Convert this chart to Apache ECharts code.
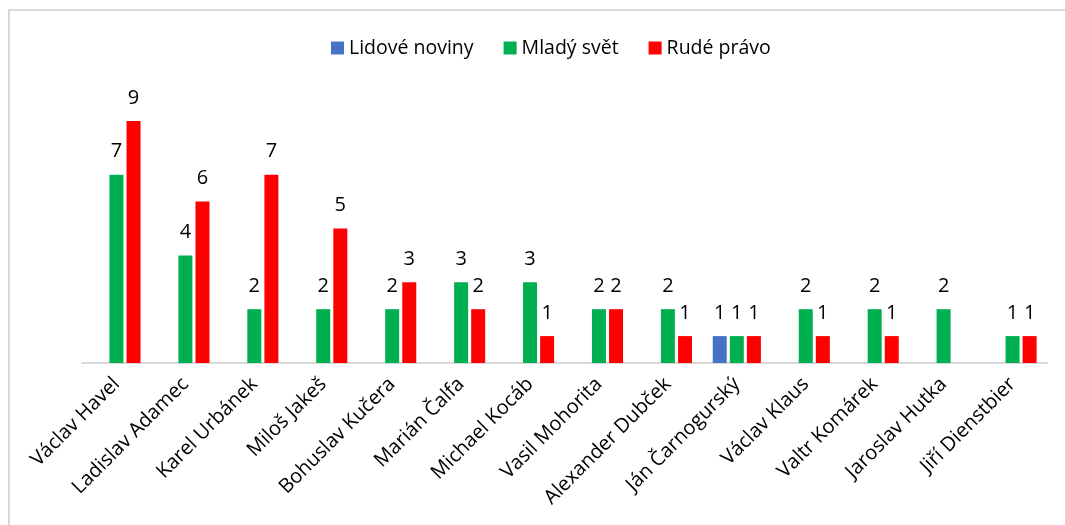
<!DOCTYPE html>
<html>
<head>
<meta charset="utf-8">
<script src="https://cdn.jsdelivr.net/npm/echarts@6/dist/echarts.min.js"></script>
<style>
    html, body {margin:0;padding:0;background:#ffffff;}
    #frame {position:absolute;left:8px;top:9px;width:1057px;height:516px;border-top:2px solid #d9d9d9;border-left:2px solid #d9d9d9;}
    #chart {position:absolute;left:0;top:0;width:1065px;height:525px;}
</style>
</head>
<body>
<div id="frame"></div>
<div id="chart"></div>
<script>
    var names = ['Václav Havel', 'Ladislav Adamec', 'Karel Urbánek', 'Miloš Jakeš', 'Bohuslav Kučera',
        'Marián Čalfa', 'Michael Kocáb', 'Vasil Mohorita', 'Alexander Dubček', 'Ján Čarnogurský',
        'Václav Klaus', 'Valtr Komárek', 'Jaroslav Hutka', 'Jiří Dienstbier'];
    var lidoveNoviny = [null, null, null, null, null, null, null, null, null, 1, null, null, null, null];
    var mladySvet = [7, 4, 2, 2, 2, 3, 3, 2, 2, 1, 2, 2, 2, 1];
    var rudePravo = [9, 6, 7, 5, 3, 2, 1, 2, 1, 1, 1, 1, null, 1];

    var font = '"Open Sans", "Noto Sans", sans-serif';

    function bar(name, data, color) {
        return {
            name: name,
            type: 'bar',
            data: data,
            barWidth: 14,
            barGap: '22%',
            itemStyle: {color: color},
            label: {
                show: true,
                position: 'top',
                distance: 13,
                color: '#000000',
                fontFamily: font,
                fontSize: 20
            }
        };
    }

    var chart = echarts.init(document.getElementById('chart'), null, {renderer: 'canvas'});
    chart.setOption({
        animation: false,
        legend: {
            top: 33,
            left: 326,
            itemWidth: 13,
            itemHeight: 13,
            itemGap: 30,
            icon: 'rect',
            textStyle: {color: '#000000', fontFamily: font, fontSize: 19.5},
            data: ['Lidové noviny', 'Mladý svět', 'Rudé právo']
        },
        grid: {
            left: 82,
            right: 18,
            top: 94,
            bottom: 162
        },
        xAxis: {
            type: 'category',
            data: names,
            axisLine: {lineStyle: {color: '#d9d9d9', width: 2}},
            axisTick: {show: false},
            axisLabel: {
                rotate: 45,
                interval: 0,
                margin: 18,
                color: '#000000',
                fontFamily: font,
                fontSize: 20
            }
        },
        yAxis: {
            type: 'value',
            min: 0,
            max: 10,
            show: false
        },
        series: [
            bar('Lidové noviny', lidoveNoviny, '#4472c4'),
            bar('Mladý svět', mladySvet, '#00b050'),
            bar('Rudé právo', rudePravo, '#ff0000')
        ]
    });
</script>
</body>
</html>
